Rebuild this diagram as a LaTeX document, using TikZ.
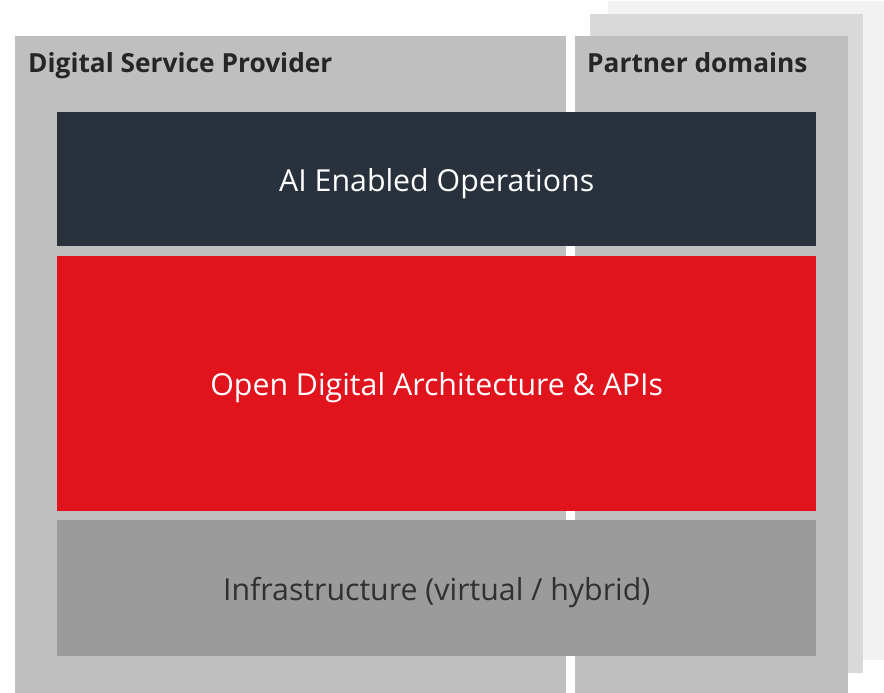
\documentclass[tikz,border=0pt]{standalone}
\usepackage{fontspec}
\setmainfont{Open Sans}
\usetikzlibrary{positioning}

\definecolor{panelgray}{HTML}{BFBFBF}
\definecolor{shadowmid}{HTML}{D9D9D9}
\definecolor{shadowlight}{HTML}{F2F2F2}
\definecolor{opsdark}{HTML}{29313C}
\definecolor{odared}{HTML}{E1131D}
\definecolor{infragray}{HTML}{9B9B9B}
\definecolor{titletext}{HTML}{262626}
\definecolor{infratext}{HTML}{303030}

\begin{document}
\begin{tikzpicture}[x=1pt,y=-1pt,
            panel/.style={rectangle, inner sep=0pt, anchor=north west},
            band/.style={rectangle, inner sep=0pt, minimum width=759pt, text height=31pt, text depth=7pt, font=\fontsize{30.3}{36}\selectfont},
            title/.style={anchor=base west, inner sep=0pt, text=titletext, font=\bfseries\fontsize{26.3}{31}\selectfont}]
  \useasboundingbox (0,0) rectangle (884,693);
  % partner domain stack
  \node[panel, fill=shadowlight, minimum width=276pt, minimum height=659pt] (partnerC) at (608,1) {};
  \node[panel, fill=shadowmid, minimum width=273pt, minimum height=659pt] (partnerB) at (590,14) {};
  \node[panel, fill=panelgray, minimum width=273pt, minimum height=657pt] (partnerA) at (575,36) {};
  % provider
  \node[panel, fill=panelgray, minimum width=551pt, minimum height=657pt] (provider) at (15,36) {};
  \node[title] (providerlbl) at (28,73) {Digital Service Provider};
  \node[title] (partnerlbl) at (587,73) {Partner domains};
  % layers
  \node[band, anchor=north west, fill=opsdark, text=white, minimum height=134pt] (ops) at (57,112) {AI Enabled Operations};
  \node[band, below=9pt of ops, fill=odared, text=white, minimum height=255pt] (oda) {Open Digital Architecture \& APIs};
  \node[band, below=9pt of oda, fill=infragray, text=infratext, minimum height=136pt] (infra) {Infrastructure (virtual / hybrid)};
\end{tikzpicture}
\end{document}
